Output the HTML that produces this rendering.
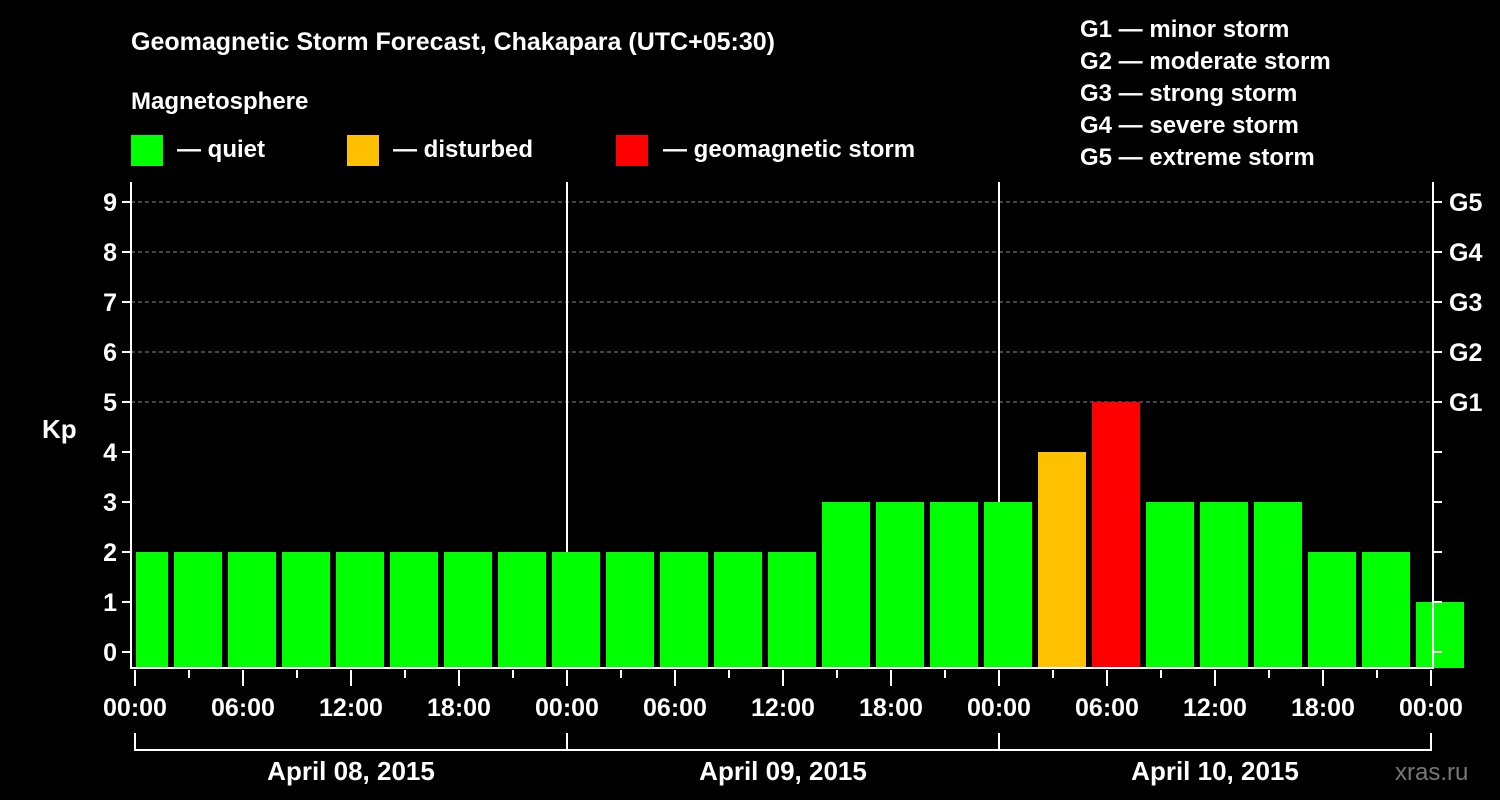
<!DOCTYPE html>
<html><head><meta charset="utf-8"><style>
html,body{margin:0;padding:0;background:#000;}
svg{display:block;font-family:"Liberation Sans",Arial,sans-serif;font-weight:bold;}
</style></head><body>
<svg id="chart" width="1500" height="800" viewBox="0 0 1500 800">
<rect width="1500" height="800" fill="#000"/>
<text x="131" y="50" fill="#fff" font-size="25">Geomagnetic Storm Forecast, Chakapara (UTC+05:30)</text>
<text x="131" y="109" fill="#fff" font-size="24">Magnetosphere</text>
<g><rect x="131" y="135" width="32" height="31" fill="#00ff00"/><text x="177" y="157" fill="#fff" font-size="24">— quiet</text></g>
<g><rect x="347" y="135" width="32" height="31" fill="#ffc000"/><text x="393" y="157" fill="#fff" font-size="24">— disturbed</text></g>
<g><rect x="616" y="135" width="32" height="31" fill="#ff0000"/><text x="663" y="157" fill="#fff" font-size="24">— geomagnetic storm</text></g>
<g fill="#fff" font-size="24">
<text x="1080" y="37">G1 — minor storm</text>
<text x="1080" y="69">G2 — moderate storm</text>
<text x="1080" y="101">G3 — strong storm</text>
<text x="1080" y="133">G4 — severe storm</text>
<text x="1080" y="165">G5 — extreme storm</text>
</g>
<text x="42" y="438" fill="#fff" font-size="26">Kp</text>
<text x="1395" y="780" fill="#777" font-size="24" font-weight="normal">xras.ru</text>
<g id="grid"></g>
<g id="bars"></g>
<g id="axes"></g>
</svg>
<script>
const hours = [-1,2,5,8,11,14,17,20,23,26,29,32,35,38,41,44,47,50,53,56,59,62,65,68,71];
const kp = [2,2,2,2,2,2,2,2,2,2,2,2,2,3,3,3,3,4,5,3,3,3,2,2,1];
const yTicks = [0,1,2,3,4,5,6,7,8,9];
const gLabels = ["","","","","","G1","G2","G3","G4","G5"];
const xLabels = ["00:00","06:00","12:00","18:00","00:00","06:00","12:00","18:00","00:00","06:00","12:00","18:00","00:00"];
const days = ["April 08, 2015","April 09, 2015","April 10, 2015"];

const NS="http://www.w3.org/2000/svg";
const X0=135, PXH=18, Y0=652, PXK=50, TOP=182, BOT=668, LEFT=131, RIGHT=1433;
const xs=h=>X0+h*PXH, ys=k=>Y0-k*PXK;
function mk(tag,attrs,parent){const e=document.createElementNS(NS,tag);for(const k in attrs)e.setAttribute(k,attrs[k]);parent.appendChild(e);return e;}
const grid=document.getElementById('grid'),bars=document.getElementById('bars'),axes=document.getElementById('axes');

yTicks.forEach(k=>{
  if(k>=5){const l=mk('line',{x1:LEFT,x2:RIGHT,y1:ys(k),y2:ys(k),stroke:'#888','stroke-dasharray':'4,3','stroke-width':1},grid);
  
  }
  const t=mk('line',{x1:LEFT-9,x2:LEFT,y1:ys(k),y2:ys(k),stroke:'#fff','stroke-width':2},axes);
  
  
  const t2=mk('line',{x1:RIGHT,x2:RIGHT+9,y1:ys(k),y2:ys(k),stroke:'#fff','stroke-width':2},axes);
  
  
  const lb=mk('text',{x:LEFT-14,y:ys(k)+9,fill:'#fff','font-size':25,'text-anchor':'end'},axes);
  lb.textContent=k;
  
  
  if(gLabels[k]){const g=mk('text',{x:1449,y:ys(k)+9,fill:'#fff','font-size':25},axes);
  g.textContent=gLabels[k];
  
  }
});
[24,48].forEach(h=>{const l=mk('line',{x1:xs(h),x2:xs(h),y1:TOP,y2:BOT,stroke:'#fff','stroke-width':2},grid);

});

hours.forEach((h,i)=>{
  const v=kp[i];
  const col=v>=5?'#ff0000':(v>=4?'#ffc000':'#00ff00');
  const x1=Math.max(xs(h)+3,X0+1), x2=xs(h+3)-3;
  const r=mk('rect',{x:x1,y:ys(v),width:x2-x1,height:BOT-ys(v),fill:col},bars);
  
  
});

const frame=mk('path',{d:`M${LEFT} ${TOP}V${BOT}H${RIGHT}V${TOP}`,stroke:'#fff','stroke-width':2,fill:'none'},axes);



for(let h=0;h<=72;h+=3){
  const major=h%6===0;
  const t=mk('line',{x1:xs(h),x2:xs(h),y1:BOT+2,y2:BOT+(major?18:10),stroke:'#fff','stroke-width':2},axes);
  
  
}
xLabels.forEach((s,i)=>{const t=mk('text',{x:xs(i*6),y:716,fill:'#fff','font-size':25,'text-anchor':'middle'},axes);
t.textContent=s;

});
days.forEach((d,i)=>{
  const b=mk('path',{d:`M${xs(i*24)} 733V750H${xs(i*24+24)}V733`,stroke:'#fff','stroke-width':2,fill:'none'},axes);
  
  
  const t=mk('text',{x:xs(i*24+12),y:780,fill:'#fff','font-size':26,'text-anchor':'middle'},axes);
  t.textContent=d;
  
  
});
</script>
</body></html>
